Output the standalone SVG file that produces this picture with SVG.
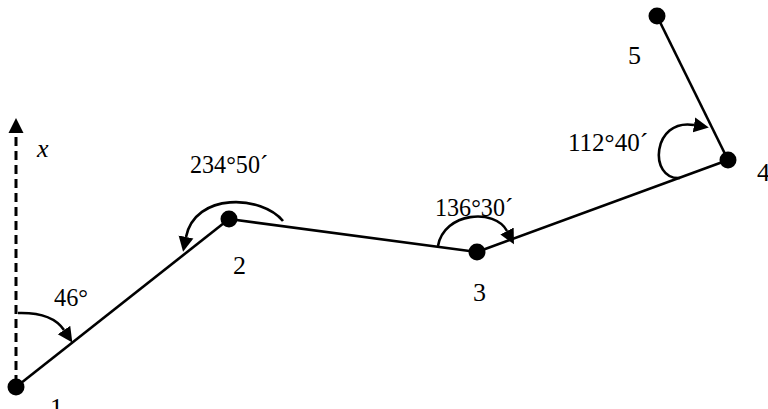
<svg xmlns="http://www.w3.org/2000/svg" width="768" height="409" viewBox="0 0 768 409">
  <style>
    .edge { stroke: #000; stroke-width: 2.6; fill: none; }
    .arc { stroke: #000; stroke-width: 2.6; fill: none; marker-end: url(#ah); }
    .axis { stroke: #000; stroke-width: 3; fill: none; stroke-dasharray: 9 5; marker-end: url(#ah); }
    .pt { fill: #000; }
    text { font-family: 'Liberation Serif', 'DejaVu Serif', serif; font-size: 26px; fill: #000; }
    .it { font-style: italic; }
  </style>
  <defs>
    <marker id="ah" markerUnits="userSpaceOnUse" markerWidth="16" markerHeight="16" viewBox="0 -8 16 16" refX="0" refY="0" orient="auto">
      <path d="M0,-7.5 L15,0 L0,7.5 z" fill="#000"/>
    </marker>
  </defs>
  <rect width="768" height="409" fill="#fff"/>
  <g id="connectors">
    <path class="axis" d="M16,384 L16,133"/>
    <path class="edge" d="M16,387 L229,219"/>
    <path class="edge" d="M229,219 L477,252"/>
    <path class="edge" d="M477,252 L728,160"/>
    <path class="edge" d="M728,160 L657,16"/>
    <path class="arc" d="M18,313 Q52,312 64,330"/>
    <path class="arc" d="M283,221 C262,195 195,192 186,237"/>
    <path class="arc" d="M438,246 C444,212 495,208 507,231"/>
    <path class="arc" d="M680,178 C648,180 652,118 694,125"/>
  </g>
  <g id="node-1">
    <circle class="pt" cx="16" cy="387" r="8.5"/>
    <text font-family="Liberation Serif, serif" x="50" y="416">1</text>
  </g>
  <g id="node-2">
    <circle class="pt" cx="229" cy="219" r="8.5"/>
    <text font-family="Liberation Serif, serif" x="233" y="274">2</text>
  </g>
  <g id="node-3">
    <circle class="pt" cx="477" cy="252" r="8.5"/>
    <text font-family="Liberation Serif, serif" x="473" y="301">3</text>
  </g>
  <g id="node-4">
    <circle class="pt" cx="728" cy="160" r="8.5"/>
    <text font-family="Liberation Serif, serif" x="757" y="181">4</text>
  </g>
  <g id="node-5">
    <circle class="pt" cx="657" cy="16" r="8.5"/>
    <text font-family="Liberation Serif, serif" x="628" y="64">5</text>
  </g>
  <g id="labels">
    <text class="it" font-family="Liberation Serif, serif" x="37" y="157">x</text>
    <text font-family="Liberation Serif, serif" x="54" y="306" textLength="34" lengthAdjust="spacingAndGlyphs">46°</text>
    <text font-family="Liberation Serif, serif" x="190" y="173" textLength="78" lengthAdjust="spacingAndGlyphs">234°50´</text>
    <text font-family="Liberation Serif, serif" x="435" y="216" textLength="78" lengthAdjust="spacingAndGlyphs">136°30´</text>
    <text font-family="Liberation Serif, serif" x="568" y="151" textLength="80" lengthAdjust="spacingAndGlyphs">112°40´</text>
  </g>
</svg>
